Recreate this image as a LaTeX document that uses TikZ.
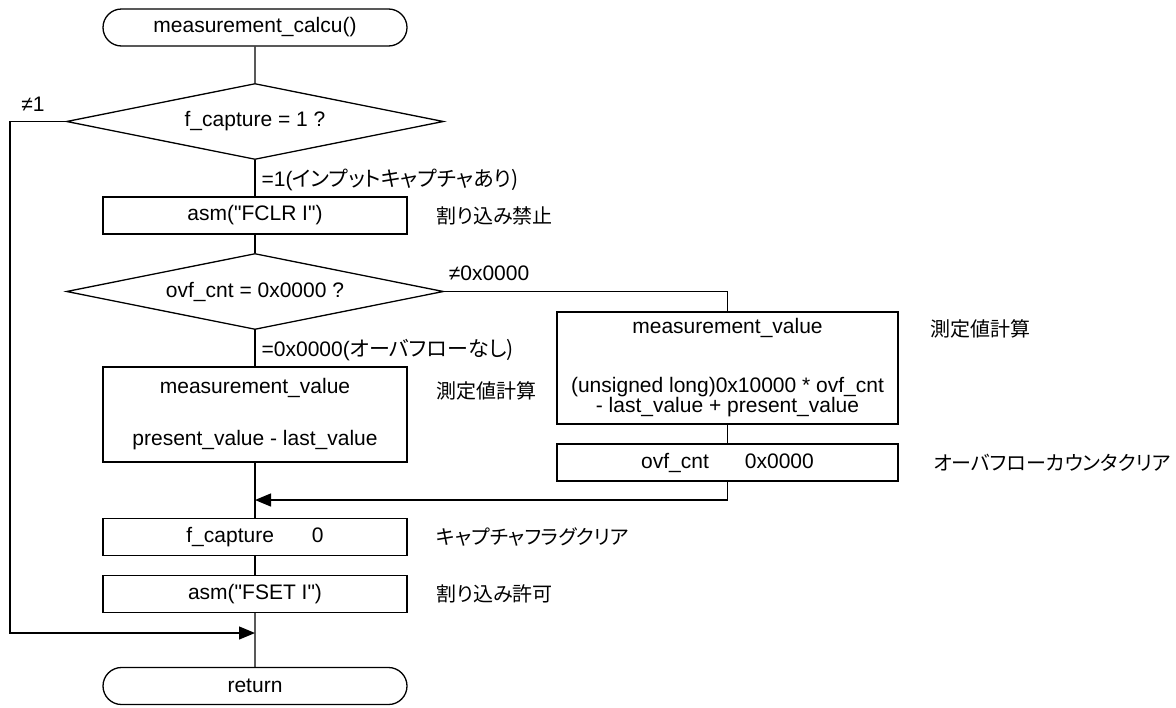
\documentclass[tikz,border=0pt]{standalone}
\usepackage{fontspec}
\setmainfont{Liberation Sans}[Ligatures=TeXOff]
\newfontfamily\jp[RawFeature=+palt]{Noto Sans CJK JP}
\usetikzlibrary{shapes.geometric,shapes.misc,arrows.meta}

\tikzset{
  termbox/.style={draw, rounded rectangle, minimum width=152pt, minimum height=18.5pt, inner sep=0pt},
  procbox/.style={draw, rectangle, minimum width=152pt, minimum height=18.5pt, inner sep=0pt},
  decbox/.style={draw, diamond, aspect=4.96, minimum width=188.5pt, minimum height=38pt, inner sep=0pt},
  jpnote/.style={anchor=west, inner sep=0pt, font=\jp},
  branchlbl/.style={anchor=west, inner sep=0pt},
  flow/.style={-{Triangle[length=8pt,width=6.5pt]}},
}

\begin{document}
\begin{tikzpicture}[x=0.5pt, y=-0.5pt, line width=0.65pt, font=\fontsize{10.5}{10}\selectfont]
  \useasboundingbox (0,0) rectangle (1176,707);

  % Main column
  \node[termbox] (start) at (255,27.5) {measurement\_calcu()};
  \node[decbox] (capt) at (255,121.5) {f\_capture = 1 ?};
  \node[procbox] (fclr) at (255,215.5) {asm("FCLR I")};
  \node[decbox] (ovf) at (255,291.5) {ovf\_cnt = 0x0000 ?};
  \node[procbox, minimum height=47.5pt, align=center] (calcA) at (255,414.5)
    {measurement\_value\\[16pt]present\_value - last\_value};
  \node[procbox] (fcap) at (255,537) {f\_capture\hspace{19pt}0};
  \node[procbox] (fset) at (255,594) {asm("FSET I")};
  \node[termbox] (ret) at (255,686) {return};

  % Overflow branch
  \node[procbox, minimum width=170.5pt, minimum height=56pt, align=center] (calcB) at (727.5,368)
    {measurement\_value\\[19.5pt](unsigned long)0x10000 * ovf\_cnt\\- last\_value + present\_value};
  \node[procbox, minimum width=170.5pt] (clr) at (727.5,462.5) {ovf\_cnt\hspace{18pt}0x0000};

  \coordinate (join1) at (255,500);
  \coordinate (join2) at (255,633);
  \coordinate (loopL) at (10,121.5);

  % Comments
  \node[jpnote] at (436,215.5) {割り込み禁止};
  \node[jpnote] at (436,391) {測定値計算};
  \node[jpnote] at (930,329) {測定値計算};
  \node[jpnote] at (933,462.5) {オーバフローカウンタクリア};
  \node[jpnote] at (436,537) {キャプチャフラグクリア};
  \node[jpnote] at (436,594) {割り込み許可};

  % Branch labels
  \node[inner sep=0pt] at (33,104) {≠1};
  \node[branchlbl] at (261,180) {=1(\jp{インプットキャプチャあり})};
  \node[inner sep=0pt] at (489,273) {≠0x0000};
  \node[branchlbl] at (261,350) {=0x0000(\jp{オーバフローなし})};

  % Connectors
  \draw (start) -- (capt);
  \draw (capt) -- (fclr);
  \draw (fclr) -- (ovf);
  \draw (ovf) -- (calcA);
  \draw (calcA) -- (fcap);
  \draw (fcap) -- (fset);
  \draw (fset) -- (ret);
  \draw (ovf.east) -| (calcB.north);
  \draw (calcB) -- (clr);
  \draw[flow] (clr.south) |- (join1);
  \draw[flow] (capt.west) -- (loopL) |- (join2);
\end{tikzpicture}
\end{document}
